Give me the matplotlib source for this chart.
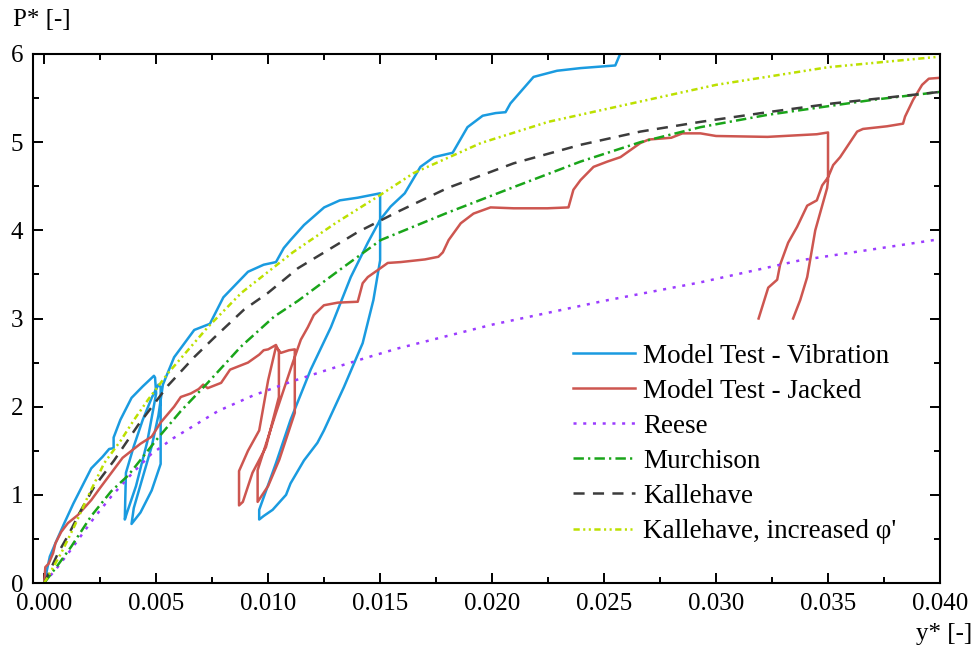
import numpy as np
import matplotlib
matplotlib.use("Agg")
import matplotlib.pyplot as plt
from matplotlib.ticker import MultipleLocator, FormatStrFormatter

plt.rcParams['font.family'] = ['Liberation Serif', 'DejaVu Serif']
plt.rcParams['font.size'] = 18
plt.rcParams['lines.scale_dashes'] = False

# Model test - vibration
vib_x = [0, 0.0001, 0.00025, 0.0005, 0.0009, 0.0013, 0.0017, 0.0021, 0.0026, 0.0029, 0.0031, 0.0031,
         0.0034, 0.0039, 0.0044, 0.0049,
         0.00495, 0.0050, 0.0046, 0.0041, 0.0037, 0.0036,
         0.00362, 0.00365, 0.0040, 0.0044, 0.0048, 0.0051,
         0.0052, 0.0052, 0.0048, 0.0043, 0.0039,
         0.0040, 0.0044, 0.0048, 0.0051, 0.0053,
         0.0058, 0.0067, 0.0072, 0.0074, 0.0080, 0.0091, 0.0098, 0.01035, 0.0107, 0.0110, 0.0116,
         0.0125, 0.0132, 0.0140, 0.0150,
         0.0150, 0.0147, 0.01422, 0.01338, 0.01249, 0.0122, 0.0116, 0.0110, 0.0108, 0.0102, 0.0098, 0.0096,
         0.0096, 0.01035, 0.0110, 0.0119, 0.0128, 0.01369, 0.01445, 0.0150, 0.01547, 0.0161, 0.0168,
         0.0174, 0.01824, 0.0189, 0.01958, 0.02016, 0.0206, 0.02082, 0.02185, 0.0229, 0.02395, 0.0255, 0.0258]
vib_y = [0, 0.12, 0.30, 0.45, 0.68, 0.90, 1.10, 1.30, 1.43, 1.52, 1.53, 1.65,
         1.85, 2.10, 2.23, 2.35,
         2.33, 2.15, 1.60, 1.10, 0.80, 0.72,
         0.95, 1.25, 1.55, 1.85, 2.10, 2.25,
         2.22, 1.35, 1.05, 0.80, 0.67,
         0.85, 1.20, 1.55, 1.90, 2.25,
         2.56, 2.87, 2.92, 2.94, 3.24, 3.53, 3.61, 3.64, 3.80, 3.89, 4.06,
         4.26, 4.34, 4.37, 4.42,
         3.66, 3.21, 2.72, 2.22, 1.73, 1.59, 1.39, 1.13, 1.00, 0.83, 0.76, 0.72,
         0.83, 1.36, 1.85, 2.42, 2.90, 3.47, 3.86, 4.12, 4.27, 4.42, 4.72,
         4.83, 4.88, 5.17, 5.30, 5.33, 5.34, 5.44, 5.74, 5.81, 5.84, 5.87, 6.05]

# Model test - jacked
jack_x = [0, 0.00005, 0.0002, 0.0004, 0.0005, 0.00076, 0.00106, 0.0015, 0.0021, 0.0025, 0.0030, 0.0035,
          0.0043, 0.0048, 0.0052, 0.0058, 0.0061, 0.00655, 0.0069, 0.0071, 0.0073, 0.0079, 0.0083, 0.0091,
          0.0096, 0.0098, 0.0100, 0.01035, 0.01048,
          0.01048, 0.0099, 0.0093, 0.00887, 0.0087,
          0.0087, 0.0091, 0.0096, 0.0100, 0.01035,
          0.01057, 0.01093, 0.01119,
          0.01119, 0.0105, 0.0100, 0.00953,
          0.00953, 0.01035, 0.0111, 0.01146, 0.01177, 0.01204, 0.01249, 0.01311, 0.0140, 0.01422, 0.01445,
          0.0149, 0.01534, 0.01592, 0.0170, 0.0176, 0.0178, 0.01806, 0.0186, 0.01917, 0.01993, 0.02096,
          0.02247, 0.02341, 0.02363, 0.02395, 0.02453, 0.02515, 0.02573, 0.02662, 0.0270, 0.0280, 0.0285,
          0.0293, 0.0300, 0.0323, 0.0345, 0.0350,
          0.0350, 0.03496, 0.03443, 0.03407, 0.03376, 0.03344]
jack_y = [0, 0.18, 0.22, 0.34, 0.45, 0.58, 0.68, 0.77, 0.94, 1.08, 1.25, 1.42,
          1.58, 1.66, 1.82, 2.00, 2.11, 2.15, 2.20, 2.25, 2.21, 2.27, 2.42, 2.50,
          2.59, 2.64, 2.65, 2.70, 2.62,
          2.11, 1.54, 1.25, 0.92, 0.88,
          1.27, 1.50, 1.73, 2.30, 2.68,
          2.61, 2.64, 2.65,
          1.93, 1.40, 1.10, 0.92,
          1.28, 1.93, 2.50, 2.76, 2.90, 3.04, 3.15, 3.18, 3.19, 3.40, 3.47,
          3.55, 3.63, 3.64, 3.67, 3.70, 3.75, 3.89, 4.08, 4.19, 4.26, 4.25,
          4.25, 4.26, 4.46, 4.57, 4.72, 4.78, 4.83, 4.99, 5.03, 5.05, 5.10,
          5.10, 5.07, 5.06, 5.09, 5.11,
          4.57, 4.48, 4.00, 3.47, 3.21, 3.00]
# second branch of the jacked test (separate line in the figure)
jack2_x = [0.0319, 0.03233, 0.03273, 0.03286, 0.03322, 0.03362, 0.03407, 0.0345, 0.03474, 0.0350, 0.03523,
           0.03554, 0.0363, 0.03656, 0.03763, 0.03835, 0.03844, 0.0388, 0.0392, 0.0395, 0.0400]
jack2_y = [3.00, 3.35, 3.44, 3.61, 3.86, 4.04, 4.28, 4.34, 4.51, 4.60, 4.74,
           4.83, 5.12, 5.15, 5.18, 5.21, 5.29, 5.48, 5.65, 5.72, 5.73]

# Reese
reese_x = [0, 0.0006, 0.0012, 0.00223, 0.00299, 0.00388, 0.00477, 0.00575, 0.00776, 0.00936, 0.0111,
           0.0128, 0.01445, 0.01578, 0.020, 0.025, 0.0293, 0.03376, 0.040]
reese_y = [0, 0.18, 0.38, 0.74, 0.98, 1.23, 1.46, 1.64, 1.95, 2.13, 2.29,
           2.43, 2.56, 2.66, 2.93, 3.20, 3.41, 3.66, 3.90]

# Murchison
murch_x = [0, 0.0006, 0.0012, 0.0021, 0.00299, 0.00375, 0.0050, 0.0061, 0.0073, 0.00878, 0.01026,
           0.01133, 0.01324, 0.01503, 0.01801, 0.02096, 0.02395, 0.02662, 0.0293, 0.0323, 0.037, 0.040]
murch_y = [0, 0.20, 0.41, 0.76, 1.04, 1.22, 1.62, 1.95, 2.27, 2.68, 3.02,
           3.20, 3.56, 3.89, 4.20, 4.49, 4.78, 5.00, 5.17, 5.31, 5.48, 5.57]

# Kallehave
kall_x = [0, 0.00062, 0.00107, 0.00165, 0.00223, 0.00312, 0.00419, 0.00553, 0.00669, 0.00758, 0.00892,
          0.00999, 0.01133, 0.0140, 0.01578, 0.01801, 0.02096, 0.02395, 0.02662, 0.0293, 0.0323, 0.03523, 0.040]
kall_y = [0, 0.34, 0.54, 0.83, 1.09, 1.39, 1.79, 2.24, 2.56, 2.78, 3.10,
          3.29, 3.57, 3.98, 4.21, 4.48, 4.76, 4.97, 5.12, 5.23, 5.34, 5.44, 5.57]

# Kallehave, increased phi'
kallp_x = [0, 0.00016, 0.00076, 0.00134, 0.00195, 0.00268, 0.00343, 0.00401, 0.00464, 0.00553, 0.0073,
           0.0088, 0.0111, 0.0130, 0.0150, 0.0165, 0.0195, 0.0225, 0.0266, 0.030, 0.035, 0.040]
kallp_y = [0, 0.07, 0.34, 0.64, 0.98, 1.36, 1.62, 1.85, 2.08, 2.38, 2.90,
           3.29, 3.75, 4.08, 4.40, 4.65, 4.99, 5.23, 5.46, 5.65, 5.85, 5.97]

fig = plt.figure(figsize=(9.74, 6.53), dpi=100)
ax = fig.add_axes([33 / 974, 70 / 653, 907 / 974, 529 / 653])

lw = 1.8
ax.plot(vib_x, vib_y, color='#1a9be0', lw=lw, label='Model Test - Vibration')
ax.plot(jack_x + [np.nan] + jack2_x, jack_y + [np.nan] + jack2_y, color='#cd5650', lw=lw,
        label='Model Test - Jacked')
ax.plot(reese_x, reese_y, color='#9b3cff', lw=lw, dashes=(2.2, 4.8), label='Reese')
ax.plot(murch_x, murch_y, color='#1aa51a', lw=lw, dashes=(7.5, 3, 1.6, 3), label='Murchison')
ax.plot(kall_x, kall_y, color='#3c3c3c', lw=lw, dashes=(8, 6), label='Kallehave')
ax.plot(kallp_x, kallp_y, color='#bce000', lw=lw, dashes=(4.5, 2.5, 1.5, 2.5, 1.5, 2.5),
        label="Kallehave, increased φ'")

ax.set_xlim(-0.0005, 0.040)
ax.set_ylim(0, 6)
ax.xaxis.set_major_locator(MultipleLocator(0.005))
ax.xaxis.set_minor_locator(MultipleLocator(0.0025))
ax.xaxis.set_major_formatter(FormatStrFormatter('%.3f'))
ax.yaxis.set_major_locator(MultipleLocator(1))
ax.yaxis.set_minor_locator(MultipleLocator(0.5))
ax.tick_params(which='both', direction='in', top=True, right=True, width=1.4)
ax.tick_params(which='major', length=7.5, pad=7)
ax.tick_params(which='minor', length=4)
for s in ax.spines.values():
    s.set_linewidth(1.5)

fig.text(13 / 974, 1 - 20 / 653, 'P* [-]', va='center', ha='left')
fig.text(972 / 974, 1 - 634 / 653, 'y* [-]', va='center', ha='right')

ax.legend(loc='upper left', bbox_to_anchor=(0.595, 0.452), frameon=False, borderpad=0,
          borderaxespad=0, handlelength=2.3, handletextpad=0.3, labelspacing=0.37,
          fontsize=19.5)

fig.savefig('out.png', dpi=100)
